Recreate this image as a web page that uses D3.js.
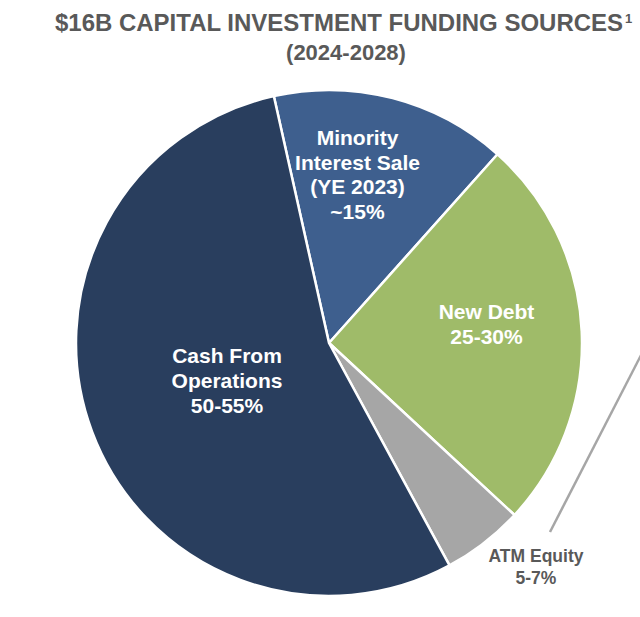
<!DOCTYPE html>
<html><head><meta charset="utf-8">
<script src="https://cdn.jsdelivr.net/npm/d3@7"></script>
<style>body{margin:0;background:#fff;overflow:hidden}svg{display:block}</style>
</head><body>
<script>
const categories = ["Minority Interest Sale (YE 2023)", "New Debt", "ATM Equity", "Cash From Operations"];
const values = [15.1, 25.3, 5.2, 54.4];
const labelLines = [["Minority","Interest Sale","(YE 2023)","~15%"],["New Debt","25-30%"],["ATM Equity","5-7%"],["Cash From","Operations","50-55%"]];
const colors = ["#3e5f8e","#9fbb69","#a6a6a6","#293e5e"];
const titleLines = ["$16B CAPITAL INVESTMENT FUNDING SOURCES", "(2024-2028)"];
const footnoteMark = "1";

const W = 640, H = 617;
const svg = d3.select("body").append("svg").attr("width", W).attr("height", H);
const cx = 329, cy = 343, R = 253;
const startAngle = -12.6 * Math.PI / 180;

const pie = d3.pie().sort(null).value(d => d)
  .startAngle(startAngle).endAngle(startAngle + 2 * Math.PI);
const arcs = pie(values);
const arc = d3.arc().innerRadius(0).outerRadius(R);

const g = svg.append("g").attr("transform", `translate(${cx},${cy})`);
g.selectAll("path").data(arcs).join("path")
  .attr("d", arc).attr("fill", (d, i) => colors[i])
  .attr("stroke", "#fff").attr("stroke-width", 2.5).attr("stroke-linejoin", "round");

// label anchors (first baseline) relative to pie centre
const lblPos = [[28.5, -198], [157.5, -24], [207, 219], [-102, 20]];
const lblColor = ["#fff", "#fff", "#595959", "#fff"];
const lblSize = [21, 21, 17.5, 21];
const lineH = [24.5, 25, 21.5, 25];
arcs.forEach((a, i) => {
  const [x, y] = lblPos[i];
  const t = g.append("text").attr("text-anchor", "middle")
    .attr("font-family", "Liberation Sans, Arial, sans-serif").attr("font-weight", "bold")
    .attr("font-size", lblSize[i]).attr("fill", lblColor[i]);
  labelLines[i].forEach((l, j) => {
    t.append("tspan").attr("x", x).attr("y", y + j * lineH[i]).text(l);
  });
});

// connector line from ATM Equity to off-chart
svg.append("line").attr("x1", 550).attr("y1", 532).attr("x2", 655).attr("y2", 328)
  .attr("stroke", "#a6a6a6").attr("stroke-width", 2.5);

// title
svg.append("text")
  .attr("font-family", "Liberation Sans, Arial, sans-serif").attr("font-weight", "bold")
  .attr("fill", "#595959").attr("font-size", 24)
  .attr("x", 55).attr("y", 31).attr("textLength", 568).attr("lengthAdjust", "spacingAndGlyphs")
  .text(titleLines[0]);
svg.append("text")
  .attr("font-family", "Liberation Sans, Arial, sans-serif").attr("font-weight", "bold")
  .attr("fill", "#595959").attr("font-size", 13)
  .attr("x", 625).attr("y", 23).text(footnoteMark);
svg.append("text").attr("text-anchor", "middle")
  .attr("font-family", "Liberation Sans, Arial, sans-serif").attr("font-weight", "bold")
  .attr("fill", "#595959").attr("font-size", 22)
  .attr("x", 346).attr("y", 60).text(titleLines[1]);
</script>
</body></html>
